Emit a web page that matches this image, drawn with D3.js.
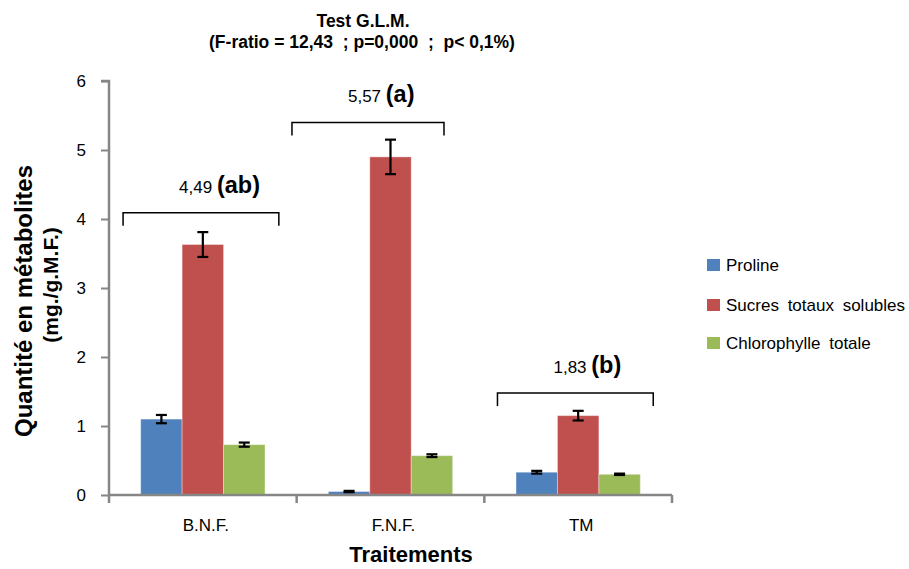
<!DOCTYPE html>
<html>
<head>
<meta charset="utf-8">
<script src="https://cdn.jsdelivr.net/npm/d3@7"></script>
<style>
  body { margin: 0; background: #fff; }
  svg { font-family: "Liberation Sans", Arial, sans-serif; }
</style>
</head>
<body>
<script>
// Data
const categories = ["B.N.F.", "F.N.F.", "TM"];
const seriesNames = ["Proline", "Sucres totaux solubles", "Chlorophylle totale"];
const proline = [1.10, 0.05, 0.33];
const prolineErr = [0.06, 0.01, 0.02];
const sucres = [3.63, 4.90, 1.15];
const sucresErr = [0.18, 0.25, 0.07];
const chloro = [0.73, 0.57, 0.30];
const chloroErr = [0.03, 0.02, 0.01];
const yTicks = [0, 1, 2, 3, 4, 5, 6];
const groupValues = ["4,49", "5,57", "1,83"];
const groupLetters = ["(ab)", "(a)", "(b)"];
const bracketLevels = [4.09, 5.40, 1.48];

const colors = ["#4F81BD", "#C0504D", "#9BBB59"];
const values = [proline, sucres, chloro];
const errors = [prolineErr, sucresErr, chloroErr];

const width = 909, height = 569;
const margin = { left: 109, right: 237, top: 81, bottom: 74 };

const svg = d3.select("body").append("svg")
    .attr("width", width)
    .attr("height", height);

const x = d3.scaleBand()
    .domain(categories)
    .range([margin.left, width - margin.right]);

const xs = d3.scaleBand()
    .domain(seriesNames)
    .range([0, x.bandwidth()])
    .paddingOuter(0.765)
    .paddingInner(0);

const y = d3.scaleLinear()
    .domain([0, 6])
    .range([height - margin.bottom, margin.top]);

// Title
svg.append("text")
    .attr("x", 363).attr("y", 27)
    .attr("text-anchor", "middle")
    .attr("font-weight", "bold").attr("font-size", 17.5)
    .text("Test G.L.M.");
svg.append("text")
    .attr("x", 362).attr("y", 48)
    .attr("text-anchor", "middle")
    .attr("font-weight", "bold").attr("font-size", 17.5)
    .attr("xml:space", "preserve")
    .text("(F-ratio = 12,43  ; p=0,000  ;  p< 0,1%)");

// Bars
const groups = svg.append("g").selectAll("g")
    .data(categories)
    .join("g")
    .attr("transform", d => `translate(${x(d)},0)`);

seriesNames.forEach((s, si) => {
    groups.append("rect")
        .attr("x", xs(s))
        .attr("width", xs.bandwidth())
        .attr("y", (d, i) => y(values[si][i]))
        .attr("height", (d, i) => y(0) - y(values[si][i]))
        .attr("fill", colors[si])
        .attr("stroke", "#ffffff")
        .attr("stroke-opacity", 0.35)
        .attr("stroke-width", 1);
});

// Error bars
seriesNames.forEach((s, si) => {
    const cx = xs(s) + xs.bandwidth() / 2;
    const eb = groups.append("g")
        .attr("stroke", "#000")
        .attr("stroke-width", 2.2);
    eb.append("line")
        .attr("x1", cx).attr("x2", cx)
        .attr("y1", (d, i) => y(values[si][i] + errors[si][i]))
        .attr("y2", (d, i) => y(values[si][i] - errors[si][i]));
    eb.append("line")
        .attr("x1", cx - 5.5).attr("x2", cx + 5.5)
        .attr("y1", (d, i) => y(values[si][i] + errors[si][i]))
        .attr("y2", (d, i) => y(values[si][i] + errors[si][i]));
    eb.append("line")
        .attr("x1", cx - 5.5).attr("x2", cx + 5.5)
        .attr("y1", (d, i) => y(values[si][i] - errors[si][i]))
        .attr("y2", (d, i) => y(values[si][i] - errors[si][i]));
});

// Axes
const axisColor = "#868686";
const yAxis = svg.append("g")
    .attr("transform", `translate(${margin.left},0)`)
    .call(d3.axisLeft(y).tickValues(yTicks).tickSize(8).tickPadding(15).tickFormat(d3.format("d")));
yAxis.select(".domain").attr("stroke", axisColor).attr("stroke-width", 2.5).attr("d", `M-8,${y(6)}H0V${y(0)}`);
yAxis.selectAll(".tick line").attr("stroke", axisColor).attr("stroke-width", 2);
yAxis.selectAll(".tick text").attr("font-size", 17).attr("fill", "#000")
    .attr("font-family", "Liberation Sans, Arial, sans-serif");

const xAxis = svg.append("g")
    .attr("transform", `translate(0,${y(0)})`)
    .call(d3.axisBottom(x).tickSize(0).tickPadding(24));
xAxis.select(".domain").attr("stroke", axisColor).attr("stroke-width", 2.5)
    .attr("d", `M${margin.left},0H${width - margin.right}`);
xAxis.selectAll(".tick text").attr("font-size", 17).attr("fill", "#000")
    .attr("dx", 3)
    .attr("font-family", "Liberation Sans, Arial, sans-serif");
// boundary ticks between categories
const bounds = categories.map(c => x(c)).concat([x(categories[categories.length - 1]) + x.bandwidth()]);
xAxis.append("g").selectAll("line")
    .data(bounds)
    .join("line")
    .attr("x1", d => d).attr("x2", d => d)
    .attr("y1", 0).attr("y2", 8)
    .attr("stroke", axisColor).attr("stroke-width", 2.5);

// Axis titles
svg.append("text")
    .attr("transform", "translate(32,301) rotate(-90)")
    .attr("text-anchor", "middle")
    .attr("font-weight", "bold").attr("font-size", 24)
    .text("Quantité en métabolites");
svg.append("text")
    .attr("transform", "translate(58,285) rotate(-90)")
    .attr("text-anchor", "middle")
    .attr("font-weight", "bold").attr("font-size", 21)
    .text("(mg./g.M.F.)");
svg.append("text")
    .attr("x", 411).attr("y", 562)
    .attr("text-anchor", "middle")
    .attr("font-weight", "bold").attr("font-size", 22)
    .text("Traitements");

// Brackets with group means and letters
const bracketSpan = [[0.075, 0.905], [-0.025, 0.785], [0.07, 0.9]];
categories.forEach((c, i) => {
    const x0 = x(c) + bracketSpan[i][0] * x.bandwidth();
    const x1 = x(c) + bracketSpan[i][1] * x.bandwidth();
    const yb = y(bracketLevels[i]);
    svg.append("path")
        .attr("d", `M${x0},${yb + 13}V${yb}H${x1}V${yb + 13}`)
        .attr("fill", "none")
        .attr("stroke", "#000")
        .attr("stroke-width", 1.5);
    const t = svg.append("text")
        .attr("x", x0 + 56)
        .attr("y", yb - 20)
        .attr("xml:space", "preserve");
    t.append("tspan").attr("font-size", 17).text(groupValues[i] + " ");
    t.append("tspan").attr("font-size", 23.5).attr("font-weight", "bold").text(groupLetters[i]);
});

// Legend
const legendY = [265, 305, 343];
const legend = svg.append("g").selectAll("g")
    .data(seriesNames)
    .join("g")
    .attr("transform", (d, i) => `translate(707,${legendY[i]})`);
legend.append("rect")
    .attr("x", 0).attr("y", -6)
    .attr("width", 13).attr("height", 12)
    .attr("fill", (d, i) => colors[i]);
legend.append("text")
    .attr("x", 19).attr("y", 6)
    .attr("font-size", 17)
    .attr("word-spacing", 4)
    .text(d => d);
</script>
</body>
</html>
